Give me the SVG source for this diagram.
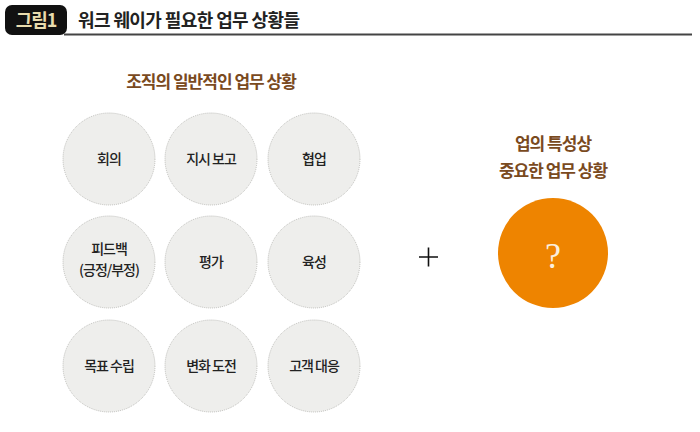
<svg xmlns="http://www.w3.org/2000/svg" width="700" height="432" viewBox="0 0 700 432">
<style>
text{font-family:"Noto Sans CJK KR","Noto Sans",sans-serif;letter-spacing:-1px}
.c{fill:#eeeeec;stroke:#a8a8a4;stroke-width:0.7;stroke-dasharray:1 1}
.t{font-size:14px;fill:#222;text-anchor:middle;font-weight:500}
.h{font-size:17px;fill:#7a4a1e;text-anchor:middle;font-weight:700}
</style>
<rect x="0" y="0" width="700" height="432" fill="#fff"/>
<g id="header">
<rect x="5" y="5" width="62" height="30" rx="7" fill="#111"/>
<text x="36" y="27" font-size="18" font-weight="700" fill="#e9dcae" text-anchor="middle">그림1</text>
<text x="78" y="26.5" font-size="18" font-weight="700" fill="#222" style="letter-spacing:-0.6px">워크 웨이가 필요한 업무 상황들</text>
<line x1="64" y1="34.5" x2="692" y2="34.5" stroke="#444" stroke-width="2"/>
</g>
<text id="heading1" class="h" x="211" y="88">조직의 일반적인 업무 상황</text>
<g id="n1"><circle class="c" cx="109" cy="159" r="46"/><text class="t" x="109" y="164">회의</text></g>
<g id="n2"><circle class="c" cx="211" cy="159" r="46"/><text class="t" x="211" y="164">지시 보고</text></g>
<g id="n3"><circle class="c" cx="314" cy="159" r="46"/><text class="t" x="314" y="164">협업</text></g>
<g id="n4"><circle class="c" cx="109" cy="262" r="46"/><text class="t" x="109" y="254">피드백</text><text class="t" x="109" y="275">(긍정/부정)</text></g>
<g id="n5"><circle class="c" cx="211" cy="262" r="46"/><text class="t" x="211" y="267">평가</text></g>
<g id="n6"><circle class="c" cx="314" cy="262" r="46"/><text class="t" x="314" y="267">육성</text></g>
<g id="n7"><circle class="c" cx="109" cy="366" r="46"/><text class="t" x="109" y="371">목표 수립</text></g>
<g id="n8"><circle class="c" cx="211" cy="366" r="46"/><text class="t" x="211" y="371">변화 도전</text></g>
<g id="n9"><circle class="c" cx="314" cy="366" r="46"/><text class="t" x="314" y="371">고객 대응</text></g>
<g id="connectors">
<path d="M419 257 H438 M428.5 247.5 V266.5" stroke="#111" stroke-width="1.6" fill="none"/>
</g>
<g id="heading2">
<text class="h" x="553" y="150">업의 특성상</text>
<text class="h" x="553" y="177">중요한 업무 상황</text>
</g>
<g id="q"><circle cx="553" cy="253" r="55" fill="#ee8400"/>
<text x="553" y="268" font-size="36" fill="#fbeedd" text-anchor="middle" style="font-family:'Liberation Serif',serif;letter-spacing:0">?</text></g>
</svg>
